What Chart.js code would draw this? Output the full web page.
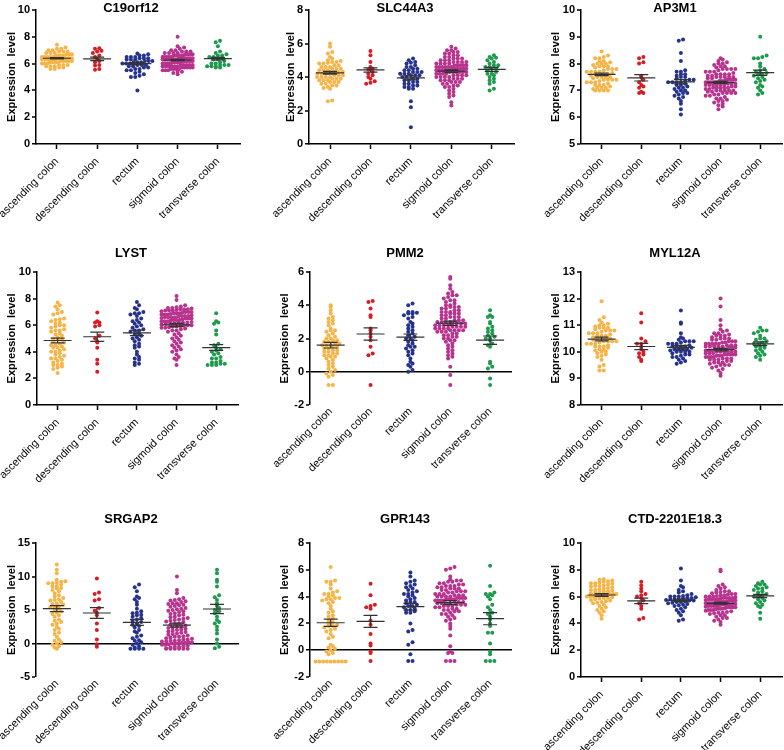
<!DOCTYPE html>
<html>
<head>
<meta charset="utf-8">
<script src="https://cdn.jsdelivr.net/npm/chart.js@4.4.1/dist/chart.umd.min.js"></script>
<style>
  html, body { margin: 0; padding: 0; background: #fff; }
  body { width: 784px; height: 750px; position: relative; overflow: hidden; }
  canvas { position: absolute; }
</style>
</head>
<body>
<script>
const categories = ['ascending colon', 'descending colon', 'rectum', 'sigmoid colon', 'transverse colon'];
const genes = ['C19orf12', 'SLC44A3', 'AP3M1', 'LYST', 'PMM2', 'MYL12A', 'SRGAP2', 'GPR143', 'CTD-2201E18.3'];
// [min, max, step] of each y axis
const yAxisRanges = [[0, 10, 2], [0, 8, 2], [5, 10, 1], [0, 10, 2], [-2, 6, 2], [8, 13, 1], [-5, 15, 5], [-2, 8, 2], [0, 10, 2]];

// expression values per sample, one list per region (asc, desc, rectum, sigmoid, transverse)
const c19orf12 = [
  [7.4,7.2,7.1,7.1,7.0,7.0,6.9,6.9,6.9,6.8,6.8,6.8,6.7,6.7,6.7,6.6,6.6,6.6,6.6,6.5,6.5,6.5,6.5,6.4,6.4,6.4,6.4,6.4,6.3,6.3,6.3,6.3,6.3,6.2,6.2,6.2,6.2,6.1,6.1,6.1,6.1,6.0,6.0,6.0,5.9,5.9,5.9,5.8,5.8,5.8,5.7,5.7,5.6,5.6,6.5,6.2],
  [7.15,7.1,6.95,6.9,6.8,6.6,6.5,6.35,6.2,6.1,5.9,5.85,5.6,5.55],
  [6.75,6.7,6.6,6.6,6.5,6.5,6.5,6.4,6.4,6.4,6.3,6.3,6.3,6.2,6.2,6.2,6.1,6.1,6.1,6.0,6.0,6.0,5.9,5.9,5.9,5.8,5.8,5.7,5.7,5.6,5.6,5.5,5.5,5.4,5.3,5.2,5.1,5.0,5.0,4.0],
  [8.0,7.3,7.2,7.1,7.0,7.0,6.9,6.9,6.9,6.8,6.8,6.8,6.8,6.7,6.7,6.7,6.7,6.7,6.6,6.6,6.6,6.6,6.6,6.6,6.5,6.5,6.5,6.5,6.5,6.5,6.4,6.4,6.4,6.4,6.4,6.4,6.4,6.3,6.3,6.3,6.3,6.3,6.3,6.3,6.2,6.2,6.2,6.2,6.2,6.2,6.2,6.1,6.1,6.1,6.1,6.1,6.1,6.0,6.0,6.0,6.0,6.0,6.0,5.9,5.9,5.9,5.9,5.9,5.8,5.8,5.8,5.8,5.8,5.8,5.7,5.7,5.7,5.7,5.7,5.6,5.6,5.6,5.6,5.5,5.5,5.5,5.4,5.4,5.3,5.2],
  [7.7,7.6,7.3,6.9,6.8,6.7,6.6,6.6,6.5,6.5,6.4,6.3,6.3,6.2,6.1,6.0,6.0,5.9,5.9,5.9,5.8,5.8,5.8,5.7,5.7]
];
const slc44a3 = [
  [6.0,5.8,5.5,5.4,5.2,5.1,5.0,4.95,4.9,4.9,4.85,4.8,4.8,4.7,4.7,4.6,4.6,4.5,4.5,4.5,4.4,4.4,4.4,4.3,4.3,4.3,4.3,4.2,4.2,4.2,4.1,4.1,4.1,4.0,4.0,4.0,4.0,3.9,3.9,3.9,3.8,3.8,3.8,3.7,3.7,3.7,3.6,3.6,3.5,3.5,3.4,3.35,3.3,2.6,2.55,4.6],
  [5.55,5.3,4.9,4.6,4.5,4.45,4.3,4.2,4.1,4.0,3.9,3.75,3.65,3.6],
  [5.1,5.0,4.9,4.85,4.8,4.7,4.6,4.6,4.5,4.5,4.4,4.4,4.3,4.3,4.3,4.2,4.2,4.1,4.1,4.1,4.0,4.0,3.9,3.9,3.8,3.8,3.7,3.7,3.6,3.6,3.5,3.5,3.4,3.4,3.3,3.3,2.55,2.2,1.0,4.2],
  [5.8,5.7,5.6,5.6,5.5,5.5,5.4,5.4,5.3,5.3,5.2,5.2,5.1,5.1,5.1,5.0,5.0,5.0,4.9,4.9,4.9,4.9,4.8,4.8,4.8,4.8,4.7,4.7,4.7,4.7,4.6,4.6,4.6,4.6,4.6,4.5,4.5,4.5,4.5,4.5,4.4,4.4,4.4,4.4,4.4,4.3,4.3,4.3,4.3,4.3,4.2,4.2,4.2,4.2,4.1,4.1,4.1,4.1,4.0,4.0,4.0,4.0,3.9,3.9,3.9,3.8,3.8,3.8,3.7,3.7,3.7,3.6,3.6,3.5,3.5,3.4,3.4,3.3,3.2,3.1,3.0,2.9,2.8,2.5,2.3,4.4,4.5,4.6,4.7,4.3],
  [5.3,5.2,5.15,5.1,5.0,4.9,4.8,4.7,4.7,4.6,4.6,4.5,4.5,4.4,4.3,4.2,4.2,4.1,4.0,3.9,3.8,3.7,3.6,3.3,3.2]
];
const ap3m1 = [
  [8.45,8.3,8.25,8.2,8.2,8.1,8.1,8.05,8.0,8.0,7.95,7.9,7.9,7.85,7.8,7.8,7.75,7.7,7.7,7.7,7.65,7.6,7.6,7.6,7.55,7.5,7.5,7.5,7.45,7.4,7.4,7.4,7.35,7.3,7.3,7.3,7.25,7.2,7.2,7.2,7.15,7.1,7.1,7.1,7.05,7.0,7.0,7.0,7.0,7.6,7.7,7.8,7.9,8.0,7.5,7.4],
  [8.25,8.2,8.05,8.0,7.55,7.5,7.4,7.3,7.2,7.15,7.1,6.95,6.9,6.9],
  [8.9,8.85,8.4,8.1,7.75,7.7,7.7,7.6,7.6,7.55,7.5,7.5,7.45,7.4,7.4,7.35,7.3,7.3,7.3,7.25,7.2,7.2,7.15,7.1,7.1,7.05,7.0,7.0,6.95,6.9,6.9,6.85,6.8,6.75,6.7,6.6,6.5,6.3,6.1,7.3],
  [8.2,8.15,8.1,8.05,8.0,8.0,7.95,7.9,7.9,7.85,7.8,7.8,7.8,7.75,7.7,7.7,7.7,7.65,7.6,7.6,7.6,7.55,7.5,7.5,7.5,7.5,7.45,7.4,7.4,7.4,7.4,7.35,7.35,7.3,7.3,7.3,7.3,7.3,7.25,7.25,7.2,7.2,7.2,7.2,7.2,7.15,7.15,7.1,7.1,7.1,7.1,7.05,7.05,7.0,7.0,7.0,7.0,6.95,6.95,6.9,6.9,6.9,6.85,6.85,6.8,6.8,6.75,6.7,6.7,6.65,6.6,6.6,6.55,6.5,6.45,6.4,6.3,7.3,7.4,7.5,7.2,7.1,7.0,7.6,7.8,6.9,7.35,7.25,7.45,7.55],
  [9.0,8.3,8.25,8.2,8.2,8.0,7.9,7.8,7.75,7.7,7.65,7.6,7.6,7.55,7.5,7.45,7.4,7.35,7.3,7.2,7.15,7.1,7.0,6.9,6.85]
];
const lyst = [
  [7.7,7.5,7.4,7.2,7.0,6.9,6.8,6.5,6.45,6.4,6.3,6.2,6.1,6.0,5.9,5.8,5.7,5.6,5.5,5.4,5.3,5.2,5.1,5.0,4.9,4.8,4.7,4.6,4.5,4.5,4.4,4.3,4.2,4.1,4.0,4.0,3.9,3.8,3.7,3.6,3.5,3.5,3.4,3.3,3.2,3.1,3.0,3.0,2.9,2.8,2.7,2.4,5.6,4.9,4.3,6.0],
  [6.95,6.3,6.2,6.2,6.0,5.9,5.2,5.0,4.8,4.7,4.3,3.4,3.1,2.5],
  [7.75,7.5,7.3,7.2,7.0,6.9,6.9,6.8,6.7,6.5,6.4,6.3,6.2,6.0,5.9,5.8,5.7,5.6,5.5,5.4,5.3,5.2,5.1,5.0,4.9,4.8,4.6,4.5,4.4,4.3,4.0,3.8,3.6,3.5,3.4,3.2,3.1,3.0,5.6,6.1],
  [8.2,7.9,7.5,7.4,7.35,7.3,7.3,7.25,7.2,7.2,7.15,7.1,7.1,7.05,7.0,7.0,6.95,6.9,6.9,6.85,6.8,6.8,6.75,6.7,6.7,6.65,6.6,6.6,6.55,6.5,6.5,6.45,6.4,6.4,6.35,6.3,6.3,6.25,6.2,6.2,6.15,6.1,6.1,6.05,6.0,6.0,5.95,5.9,5.9,5.85,5.8,5.8,5.75,5.7,5.6,5.5,5.4,5.3,5.2,5.1,5.0,4.9,4.8,4.7,4.6,4.5,4.4,4.3,4.2,4.1,4.0,3.8,3.6,3.5,3.4,3.0,7.0,6.9,6.8,6.7,6.6,6.5,6.4,6.3,6.2,7.2,7.1,6.0,5.6,6.6],
  [6.9,6.3,6.2,6.1,5.6,5.3,4.6,4.5,4.3,4.1,4.0,3.9,3.8,3.6,3.5,3.5,3.3,3.2,3.2,3.1,3.1,3.0,3.0,3.0,4.2]
];
const pmm2 = [
  [4.0,3.9,3.7,3.5,3.3,3.2,3.1,3.0,2.8,2.6,2.5,2.5,2.4,2.3,2.2,2.1,2.0,2.0,1.9,1.9,1.8,1.8,1.7,1.7,1.6,1.6,1.5,1.5,1.4,1.4,1.3,1.3,1.2,1.2,1.1,1.1,1.0,1.0,0.9,0.8,0.7,0.6,0.5,0.4,0.3,0.2,0.1,0.0,-0.1,-0.2,-0.3,-0.8,-0.8,2.9,1.6,0.9],
  [4.25,4.2,3.8,3.4,3.3,2.5,2.3,2.1,1.9,1.5,1.1,1.0,-0.8,2.6],
  [4.1,4.0,3.6,3.6,3.55,3.5,3.5,3.4,3.3,3.2,3.0,2.9,2.8,2.6,2.5,2.4,2.3,2.2,2.1,2.0,1.9,1.8,1.7,1.6,1.5,1.4,1.3,1.2,1.1,1.0,0.8,0.6,0.5,0.4,0.3,0.1,0.0,2.7,2.0,1.5],
  [5.7,5.6,5.2,5.0,4.8,4.7,4.6,4.6,4.5,4.4,4.3,4.2,4.1,4.0,4.0,3.9,3.9,3.8,3.8,3.7,3.7,3.6,3.6,3.5,3.5,3.4,3.4,3.3,3.3,3.2,3.2,3.1,3.1,3.0,3.0,3.0,2.9,2.9,2.9,2.8,2.8,2.8,2.7,2.7,2.7,2.6,2.6,2.6,2.5,2.5,2.5,2.4,2.4,2.3,2.3,2.2,2.2,2.1,2.1,2.0,2.0,1.9,1.9,1.8,1.7,1.6,1.5,1.4,1.3,1.2,1.1,1.0,0.9,0.8,0.3,-0.2,-0.8,3.1,3.3,3.5,2.7,2.5,3.9,4.3,2.9,3.0,2.6,3.6,2.4,2.8],
  [3.7,3.4,3.3,3.3,3.0,2.9,2.7,2.5,2.4,2.3,2.2,2.1,2.0,1.9,1.7,1.6,1.5,0.6,0.5,0.3,0.2,-0.4,-0.8,2.6,2.0]
];
const myl12a = [
  [11.9,11.3,11.2,11.1,11.05,11.0,11.0,10.95,10.9,10.9,10.85,10.8,10.8,10.75,10.7,10.7,10.65,10.6,10.6,10.55,10.5,10.5,10.5,10.45,10.4,10.4,10.4,10.35,10.3,10.3,10.3,10.25,10.2,10.2,10.15,10.1,10.1,10.05,10.0,10.0,9.95,9.9,9.85,9.8,9.7,9.5,9.45,9.3,9.3,10.6,10.5,10.7,10.4,10.8,10.2,10.9],
  [11.45,11.1,10.5,10.4,10.3,10.3,10.2,10.1,10.0,9.95,9.8,9.7,9.65,9.9],
  [11.55,11.1,11.05,10.7,10.55,10.5,10.45,10.4,10.4,10.35,10.3,10.3,10.25,10.2,10.2,10.2,10.15,10.1,10.1,10.1,10.05,10.0,10.0,10.0,9.95,9.9,9.9,9.85,9.8,9.8,9.75,9.7,9.65,9.6,9.55,10.3,10.2,10.1,10.4,10.0],
  [12.0,11.7,11.2,11.0,10.85,10.8,10.75,10.7,10.65,10.6,10.6,10.55,10.5,10.5,10.45,10.45,10.4,10.4,10.35,10.35,10.3,10.3,10.3,10.25,10.25,10.2,10.2,10.2,10.15,10.15,10.1,10.1,10.1,10.05,10.05,10.0,10.0,10.0,10.0,9.95,9.95,9.9,9.9,9.9,9.85,9.85,9.8,9.8,9.8,9.75,9.75,9.7,9.7,9.65,9.65,9.6,9.6,9.55,9.5,9.5,9.45,9.4,9.35,9.3,9.2,9.1,10.0,10.1,10.2,9.9,10.3,10.4,9.8,10.5,10.6,9.7,9.6,10.0,10.1,10.2,9.9,10.3,9.5,10.7,9.85,10.05,10.15,9.95,10.25,9.75],
  [10.9,10.8,10.8,10.75,10.7,10.6,10.5,10.45,10.4,10.35,10.3,10.3,10.25,10.2,10.2,10.15,10.1,10.05,10.0,9.95,9.9,9.85,9.8,9.7,10.5]
];
const srgap2 = [
  [11.8,11.0,10.5,9.5,9.3,9.2,9.1,9.0,8.8,8.5,8.3,8.2,8.0,7.5,7.2,7.0,6.8,6.6,6.4,6.2,6.0,5.8,5.6,5.5,5.4,5.2,5.0,4.8,4.6,4.4,4.2,4.0,3.6,3.2,3.0,2.8,2.5,2.2,2.0,1.6,1.4,1.0,0.6,0.4,0.2,0.0,-0.2,-0.4,-0.6,-0.8,7.8,6.5,5.9,8.6,9.0,3.4],
  [9.7,7.6,7.4,6.6,6.4,5.3,4.9,4.6,4.2,3.0,2.0,0.6,-0.1,-0.5],
  [8.8,8.4,7.8,7.0,6.6,6.2,5.8,4.8,4.6,4.5,4.3,4.2,4.0,3.8,3.6,3.4,3.2,3.0,2.6,2.4,2.0,1.8,1.6,1.2,1.0,0.8,0.5,0.2,0.0,-0.2,-0.4,-0.6,-0.8,-0.8,-0.8,-0.8,6.8,5.2,2.8,0.4],
  [10.0,8.0,7.5,6.8,6.6,6.5,6.3,6.2,6.0,6.0,5.9,5.8,5.6,5.5,5.3,5.2,5.0,4.8,4.7,4.5,4.4,4.2,4.0,3.9,3.8,3.6,3.5,3.4,3.2,3.0,2.9,2.8,2.7,2.6,2.4,2.2,2.0,1.9,1.8,1.7,1.6,1.5,1.3,1.2,1.0,0.9,0.8,0.7,0.6,0.5,0.4,0.3,0.2,0.1,0.0,0.0,-0.1,-0.2,-0.3,-0.4,-0.5,-0.6,-0.7,-0.8,-0.8,-0.8,-0.8,-0.8,-0.8,0.0,0.2,0.4,0.6,1.0,1.4,2.5,3.3,4.3,5.1,5.7,6.4,2.1,0.1,-0.2,3.7,4.9,1.1,0.3,-0.5,2.3],
  [11.0,10.5,9.5,9.2,8.5,7.2,6.9,6.0,5.6,5.3,5.0,4.8,4.5,4.0,3.5,3.2,3.0,2.5,2.0,1.5,0.6,0.0,-0.5,-0.7,6.5]
];
const gpr143 = [
  [6.2,5.2,5.1,5.1,4.9,4.4,4.3,4.2,4.2,4.1,4.0,3.9,3.9,3.8,3.8,3.7,3.5,3.3,3.1,2.9,2.8,2.6,2.4,2.2,2.1,2.0,1.9,1.8,1.8,1.7,1.5,1.4,1.2,1.0,0.9,0.4,0.3,0.1,0.0,-0.1,-0.2,-0.3,-0.85,-0.85,-0.85,-0.85,-0.85,-0.85,-0.85,-0.85,-0.85,3.6,4.6,2.5,1.6,0.2],
  [4.95,4.1,3.4,3.3,3.2,3.1,2.2,1.9,1.2,0.5,0.35,-0.1,-0.2,-0.8],
  [5.8,5.5,5.2,5.1,5.0,4.9,4.8,4.7,4.6,4.5,4.4,4.3,4.2,4.1,4.0,3.9,3.8,3.7,3.6,3.5,3.4,3.3,3.2,3.1,3.0,3.0,2.9,2.8,2.8,2.0,1.5,1.4,0.6,0.4,-0.3,-0.8,-0.8,4.2,3.6,3.3],
  [6.2,6.1,6.0,5.5,5.3,5.2,5.2,5.1,5.1,5.0,5.0,4.9,4.9,4.8,4.8,4.7,4.7,4.6,4.6,4.5,4.5,4.4,4.4,4.3,4.3,4.2,4.2,4.1,4.1,4.0,4.0,4.0,3.9,3.9,3.9,3.8,3.8,3.8,3.7,3.7,3.7,3.6,3.6,3.5,3.5,3.5,3.4,3.4,3.3,3.3,3.2,3.2,3.1,3.0,3.0,2.9,2.8,2.7,2.6,2.5,2.4,2.3,2.2,2.0,1.8,1.6,1.1,0.3,-0.1,-0.2,-0.2,-0.8,-0.8,-0.8,3.6,3.8,4.0,4.2,3.4,3.9,4.6,3.1,2.9,4.4,3.5,3.7,4.1,3.3,2.7,4.8],
  [6.3,4.8,4.3,4.2,4.2,4.1,3.8,3.2,2.8,2.7,2.3,2.0,1.8,1.3,1.3,0.5,-0.1,-0.3,-0.8,-0.8,-0.8,3.4,2.5,4.0,3.0]
];
const ctd2201e18 = [
  [7.3,7.25,7.2,7.15,7.1,7.05,7.0,7.0,6.95,6.9,6.85,6.8,6.75,6.7,6.65,6.6,6.55,6.5,6.45,6.4,6.35,6.3,6.25,6.2,6.2,6.15,6.1,6.1,6.05,6.0,6.0,5.95,5.9,5.85,5.8,5.75,5.7,5.65,5.6,5.55,5.5,5.4,5.3,5.2,5.1,5.0,4.9,4.8,4.6,4.35,6.2,6.5,5.9,6.8,6.0,6.4],
  [7.1,6.85,6.6,6.4,6.2,6.1,6.0,5.7,5.5,5.3,5.1,4.4,4.3,5.9],
  [8.1,7.2,6.8,6.7,6.5,6.4,6.3,6.2,6.1,6.05,6.0,6.0,5.95,5.9,5.85,5.8,5.8,5.75,5.7,5.7,5.65,5.6,5.55,5.5,5.45,5.4,5.35,5.3,5.2,5.1,5.0,4.9,4.8,4.6,4.3,4.2,5.8,6.0,5.6,5.9],
  [8.0,7.9,6.9,6.8,6.7,6.6,6.5,6.4,6.35,6.3,6.25,6.2,6.15,6.1,6.05,6.0,6.0,5.95,5.9,5.9,5.85,5.8,5.8,5.75,5.7,5.7,5.65,5.6,5.6,5.6,5.55,5.5,5.5,5.5,5.45,5.45,5.4,5.4,5.35,5.3,5.3,5.25,5.2,5.2,5.15,5.1,5.1,5.05,5.0,5.0,4.95,4.9,4.85,4.8,4.75,4.7,4.6,4.5,4.4,4.3,4.2,4.1,3.9,5.5,5.6,5.4,5.7,5.3,5.8,5.2,5.9,5.5,5.6,5.4,6.0,5.0,6.2,4.8,5.5,5.3,5.7,6.4,4.6,5.8,5.1,5.9,4.4,6.1,5.2,5.6],
  [7.1,7.0,6.9,6.9,6.8,6.7,6.6,6.5,6.4,6.3,6.2,6.1,6.0,6.0,5.9,5.8,5.7,5.6,5.5,5.4,5.3,5.2,4.8,4.35,6.6]
];
const geneValues = [c19orf12, slc44a3, ap3m1, lyst, pmm2, myl12a, srgap2, gpr143, ctd2201e18];

// mean and SEM bars
const groupMeans = [
  [6.4, 6.35, 6.0, 6.27, 6.37],
  [4.25, 4.42, 3.95, 4.35, 4.45],
  [7.6, 7.47, 7.32, 7.3, 7.66],
  [4.85, 5.13, 5.42, 6.02, 4.32],
  [1.6, 2.27, 2.08, 2.92, 1.9],
  [10.48, 10.2, 10.17, 10.08, 10.3],
  [5.2, 4.55, 3.15, 2.75, 5.15],
  [2.05, 2.15, 3.25, 3.55, 2.35],
  [6.12, 5.68, 5.72, 5.5, 6.05]
];
const groupSems = [
  [0.04, 0.13, 0.08, 0.05, 0.1],
  [0.08, 0.13, 0.12, 0.08, 0.12],
  [0.05, 0.12, 0.08, 0.04, 0.1],
  [0.18, 0.35, 0.2, 0.12, 0.22],
  [0.17, 0.37, 0.19, 0.13, 0.25],
  [0.07, 0.12, 0.07, 0.05, 0.07],
  [0.45, 0.8, 0.45, 0.3, 0.7],
  [0.27, 0.45, 0.25, 0.15, 0.45],
  [0.1, 0.2, 0.1, 0.07, 0.12]
];

const groupColors = ['#F6B448', '#D81C24', '#26338D', '#B8338D', '#1D9A4D'];

// page layout (px)
const colLeft = [0, 262, 524];
const rowTop = [0, 236, 490];
const rowHeight = [250, 254, 260];
const plotTopY = [10, 272, 543];
const plotBottomY = [144, 405, 677];
const titleCenterY = [8, 253, 519];
const titleCenterX = [131, 405, 675];
const axisLineX = [36, 309, 581, 37, 310, 581, 36, 310, 581];
const yTitleCenterX = [12, 291, 556, 12, 285, 556, 12, 285, 556];
const plotRightX = [240, 514, 784, 238, 512, 784, 239, 512, 784];

Chart.defaults.font.family = '"Liberation Sans", Arial, sans-serif';
Chart.defaults.color = '#000';

// scatter dot plot: points sharing a row are spread sideways around the category
function swarm(values, cat, unitsPerPx, xPerPx) {
  const rowH = unitsPerPx * 3.4;
  const rows = {};
  values.slice().sort((a, b) => a - b).forEach(v => {
    const k = Math.round(v / rowH);
    (rows[k] = rows[k] || []).push(v);
  });
  const pts = [];
  Object.values(rows).forEach(row => {
    const n = row.length;
    let dx = 4.3;
    if ((n - 1) * dx > 30) dx = 30 / (n - 1);
    row.forEach((v, k) => pts.push({ x: cat + (k - (n - 1) / 2) * dx * xPerPx, y: v }));
  });
  return pts;
}

const panelDeco = {
  id: 'panelDeco',
  afterDatasetsDraw(chart, args, opts) {
    const { ctx } = chart;
    const x = chart.scales.x, y = chart.scales.y;
    ctx.save();
    ctx.strokeStyle = '#333';
    ctx.lineWidth = 1.2;
    opts.means.forEach((m, g) => {
      const cx = x.getPixelForValue(g);
      const ym = y.getPixelForValue(m);
      const yt = y.getPixelForValue(m + opts.sems[g]);
      const yb = y.getPixelForValue(m - opts.sems[g]);
      ctx.beginPath();
      ctx.moveTo(cx - 14, ym); ctx.lineTo(cx + 14, ym);
      ctx.moveTo(cx, yt); ctx.lineTo(cx, yb);
      ctx.moveTo(cx - 7, yt); ctx.lineTo(cx + 7, yt);
      ctx.moveTo(cx - 7, yb); ctx.lineTo(cx + 7, yb);
      ctx.stroke();
    });
    ctx.fillStyle = '#000';
    ctx.font = 'bold 13px "Liberation Sans", Arial, sans-serif';
    ctx.textAlign = 'center';
    ctx.textBaseline = 'middle';
    ctx.fillText(opts.title, opts.titleX, opts.titleY);
    ctx.restore();
  }
};

genes.forEach((gene, p) => {
  const col = p % 3, row = Math.floor(p / 3);
  const left = colLeft[col], top = rowTop[row];
  const w = col === 2 ? 784 - left : 262;
  const h = rowHeight[row];
  const canvas = document.createElement('canvas');
  canvas.width = w;
  canvas.height = h;
  canvas.style.left = left + 'px';
  canvas.style.top = top + 'px';
  document.body.appendChild(canvas);

  const [yMin, yMax, yStep] = yAxisRanges[p];
  const padLeft = yTitleCenterX[p] - left - 6.6;
  const yWidth = axisLineX[p] - left - padLeft;
  const chartTop = plotTopY[row] - top;
  const chartBottom = plotBottomY[row] - top;
  const padRight = w - (plotRightX[p] - left);
  const plotW = plotRightX[p] - axisLineX[p];
  const plotH = chartBottom - chartTop;
  const xMin = -0.52, xMax = 4.55;
  const xPerPx = (xMax - xMin) / plotW;
  const hasNegative = yMin < 0;

  const datasets = geneValues[p].map((vals, g) => ({
    data: swarm(vals, g, (yMax - yMin) / plotH, xPerPx),
    backgroundColor: groupColors[g],
    pointRadius: 2,
    pointHoverRadius: 2,
    pointBorderWidth: 0
  }));

  new Chart(canvas, {
    type: 'scatter',
    data: { datasets },
    options: {
      responsive: false,
      animation: false,
      events: [],
      layout: { padding: { left: padLeft, right: padRight, top: chartTop, bottom: 0 } },
      plugins: {
        legend: { display: false },
        tooltip: { enabled: false },
        panelDeco: {
          title: gene,
          titleX: titleCenterX[col] - left,
          titleY: titleCenterY[row] - top,
          means: groupMeans[p],
          sems: groupSems[p]
        }
      },
      scales: {
        x: {
          type: 'linear',
          min: xMin,
          max: xMax,
          afterBuildTicks: s => { s.ticks = categories.map((c, i) => ({ value: i })); },
          afterFit: s => { s.height = h - chartBottom; s.paddingLeft = 0; s.paddingRight = 0; },
          border: { display: !hasNegative, color: '#000', width: 1.5 },
          grid: {
            drawOnChartArea: false,
            drawTicks: !hasNegative,
            tickLength: 5,
            tickWidth: 1.5,
            tickColor: '#000'
          },
          ticks: {
            autoSkip: false,
            minRotation: 45,
            maxRotation: 45,
            padding: hasNegative ? 0 : 6,
            font: { size: 11 },
            callback: v => categories[v]
          }
        },
        y: {
          min: yMin,
          max: yMax,
          afterFit: s => { s.width = yWidth; s.paddingTop = 0; s.paddingBottom = 0; },
          border: { display: true, color: '#000', width: 1.5 },
          grid: {
            drawOnChartArea: hasNegative,
            drawTicks: true,
            tickLength: 4,
            tickWidth: 1.5,
            tickColor: '#000',
            color: c => (c.tick && c.tick.value === 0 ? '#000' : 'rgba(0,0,0,0)'),
            lineWidth: c => (c.tick && c.tick.value === 0 ? 1.5 : 0)
          },
          ticks: { stepSize: yStep, padding: 2, font: { size: 11, weight: 'bold' } },
          title: {
            display: true,
            text: 'Expression  level',
            padding: 0,
            font: { size: 11, weight: 'bold' }
          }
        }
      }
    },
    plugins: [panelDeco]
  });
});
</script>
</body>
</html>
